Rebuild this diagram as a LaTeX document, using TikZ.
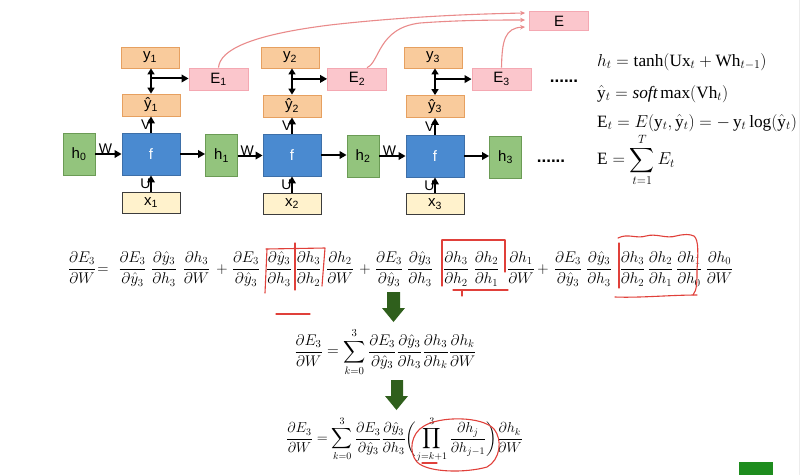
\documentclass[tikz,border=0pt]{standalone}
\usepackage{amsmath}
\usepackage{fontspec}
\setmainfont{Liberation Serif}
\newfontfamily\lsans{Liberation Sans}
\usetikzlibrary{arrows.meta,calc}
\definecolor{gfill}{HTML}{93C47D}\definecolor{gline}{HTML}{6B9B55}
\definecolor{bfill}{HTML}{4A8AD0}\definecolor{bline}{HTML}{3D6FA8}
\definecolor{ofill}{HTML}{F9CB9C}\definecolor{oline}{HTML}{E6A060}
\definecolor{pfill}{HTML}{FBC6CC}\definecolor{pline}{HTML}{F4A8B2}
\definecolor{yfill}{HTML}{FFF2CC}\definecolor{yline}{HTML}{3C3C3C}
\definecolor{pcurve}{HTML}{E98B8B}
\definecolor{dgreen}{HTML}{2F5F1C}
\definecolor{sqgreen}{HTML}{1E8C1E}
\definecolor{annot}{HTML}{E0403A}
\newcommand\pdfr[2]{\dfrac{\partial #1}{\partial #2}}
\newcommand\rowfr[1]{\scalebox{0.9}{$\nulldelimiterspace=0pt #1$}}
\begin{document}
\begin{tikzpicture}[x=1pt,y=-1pt,
  box/.style={draw, line width=0.8pt, inner sep=0pt, font=\lsans\fontsize{15}{17}\selectfont},
  gbox/.style={box, fill=gfill, draw=gline, minimum width=32pt, minimum height=42pt},
  fbox/.style={box, fill=bfill, draw=bline, text=white, minimum width=58pt, minimum height=42pt},
  xbox/.style={box, fill=yfill, draw=yline, minimum width=58pt, minimum height=21pt},
  obox/.style={box, fill=ofill, draw=oline, minimum width=58pt, minimum height=22pt},
  pbox/.style={box, fill=pfill, draw=pline, minimum width=59pt, minimum height=22pt},
  wl/.style={inner sep=0pt, font=\lsans\fontsize{14}{16}\selectfont},
  dotl/.style={inner sep=0pt, font=\lsans\bfseries\fontsize{17}{18}\selectfont},
  arr/.style={line width=2pt, -{Triangle[length=7pt,width=7.5pt]}},
  darr/.style={line width=2pt, {Triangle[length=6pt,width=7pt]}-{Triangle[length=6pt,width=7pt]}},
  parr/.style={draw=pcurve, line width=1.1pt, -{Stealth[length=5pt,width=4.5pt]}},
  fr/.style={inner sep=0pt, anchor=base, font=\fontsize{17.28}{20}\selectfont},
  req/.style={inner sep=0pt, anchor=west, font=\fontsize{17.28}{20}\selectfont},
  red/.style={draw=annot, line width=1.1pt, line cap=round, line join=round}
]
\useasboundingbox (0,0) rectangle (811,475);
\draw[gray!15, line width=0.8pt] (799,0) -- (799,475);
\fill[sqgreen] (739,462) rectangle (773,475);

% RNN chain
\node[gbox] (h0) at (79,154) {h\textsubscript{0}};
\node[fbox] (f1) at (151,154) {f};
\node[gbox] (h1) at (221.5,155.5) {h\textsubscript{1}};
\node[fbox] (f2) at (292,155) {f};
\node[gbox] (h2) at (363,156) {h\textsubscript{2}};
\node[fbox] (f3) at (435,156) {f};
\node[gbox] (h3) at (505.5,157) {h\textsubscript{3}};
\node[xbox] (x1) at (151,202.5) {x\textsubscript{1}};
\node[xbox] (x2) at (292,203.5) {x\textsubscript{2}};
\node[xbox] (x3) at (435,204) {x\textsubscript{3}};
\node[obox] (yh1) at (151,105) {ŷ\textsubscript{1}};
\node[obox] (yh2) at (292,106) {ŷ\textsubscript{2}};
\node[obox] (yh3) at (435,106.5) {ŷ\textsubscript{3}};
\node[obox,minimum height=21pt] (y1) at (150,57.5) {y\textsubscript{1}};
\node[obox,minimum height=21pt] (y2) at (290,57.5) {y\textsubscript{2}};
\node[obox,minimum height=21pt] (y3) at (433,57.5) {y\textsubscript{3}};
\node[pbox] (E1) at (218.5,79) {E\textsubscript{1}};
\node[pbox] (E2) at (357,79) {E\textsubscript{2}};
\node[pbox] (E3) at (501.5,79) {E\textsubscript{3}};
\node[pbox,minimum height=19pt] (E) at (559,21) {E};
\node[dotl] (d1) at (564,81) {......};
\node[dotl] (d2) at (551,161) {......};

\foreach \i/\hp in {1/0,2/1,3/2}{
  \draw[arr] (h\hp.east) -- node[wl,pos=0.38,above=-0.5pt] (w\i) {W} (h\hp.east -| f\i.west);
  \draw[arr] (f\i.east) -- (f\i.east -| h\i.west);
  \draw[arr] (x\i.north) -- node[wl,left=-0.5pt] (u\i) {U} (x\i.north |- f\i.south);
  \draw[arr] (f\i.north) -- node[wl,left=-0.5pt] (v\i) {V} (f\i.north |- yh\i.south);
  \draw[darr] (yh\i.north) -- (yh\i.north |- y\i.south);
  \coordinate (m\i) at ($(yh\i.north)!0.6!(yh\i.north |- y\i.south)$);
  \draw[arr] ([xshift=1pt]m\i) -- (m\i -| E\i.west);
}

% curves to E
\coordinate (ea) at ($(E.west)+(-4,-8)$);
\coordinate (eb) at ($(E.west)+(-4,-1)$);
\coordinate (ec) at ($(E.west)+(-4,6)$);
\draw[parr] (E1.north) .. controls (220,50) and (250,35) .. (330,25) .. controls (400,17) and (470,14) .. (ea);
\draw[parr] ([xshift=10pt]E2.north) .. controls (380,62) and (378,28) .. (420,23) .. controls (460,20) and (500,20) .. (eb);
\draw[parr] (E3.north) .. controls (502,40) and (505,28) .. (ec);

% right equations
\node[req] (q1) at (597,62) {$h_t = \tanh(\mathrm{Ux}_t + \mathrm{Wh}_{t-1})$};
\node[req] (q2) at (597,94) {$\hat{\mathrm{y}}_t = \mathit{soft}\max(\mathrm{Vh}_t)$};
\node[req] (q3) at (597,123) {$\mathrm{E}_t = E(\mathrm{y}_t,\hat{\mathrm{y}}_t) = -\,\mathrm{y}_t\log(\hat{\mathrm{y}}_t)$};
\node[req] (q4) at (597,160) {$\mathrm{E} = \displaystyle\sum_{t=1}^{T} E_t$};

% long equation
\node[fr] (t1) at (82,273) {\rowfr{\pdfr{E_3}{W}}};
\node[fr] (t2) at (103,273) {\rowfr{=}};
\node[fr] (t3) at (132.5,273) {\rowfr{\pdfr{E_3}{\hat y_3}}};
\node[fr] (t4) at (164,273) {\rowfr{\pdfr{\hat y_3}{h_3}}};
\node[fr] (t5) at (196.5,273) {\rowfr{\pdfr{h_3}{W}}};
\node[fr] (t6) at (222,273) {\rowfr{+}};
\node[fr] (t7) at (246,273) {\rowfr{\pdfr{E_3}{\hat y_3}}};
\node[fr] (t8) at (279,273) {\rowfr{\pdfr{\hat y_3}{h_3}}};
\node[fr] (t9) at (308.5,273) {\rowfr{\pdfr{h_3}{h_2}}};
\node[fr] (t10) at (340,273) {\rowfr{\pdfr{h_2}{W}}};
\node[fr] (t11) at (365,273) {\rowfr{+}};
\node[fr] (t12) at (389,273) {\rowfr{\pdfr{E_3}{\hat y_3}}};
\node[fr] (t13) at (420,273) {\rowfr{\pdfr{\hat y_3}{h_3}}};
\node[fr] (t14) at (456,273) {\rowfr{\pdfr{h_3}{h_2}}};
\node[fr] (t15) at (486.5,273) {\rowfr{\pdfr{h_2}{h_1}}};
\node[fr] (t16) at (521,273) {\rowfr{\pdfr{h_1}{W}}};
\node[fr] (t17) at (543,273) {\rowfr{+}};
\node[fr] (t18) at (568,273) {\rowfr{\pdfr{E_3}{\hat y_3}}};
\node[fr] (t19) at (599,273) {\rowfr{\pdfr{\hat y_3}{h_3}}};
\node[fr] (t20) at (632.5,273) {\rowfr{\pdfr{h_3}{h_2}}};
\node[fr] (t21) at (660.5,273) {\rowfr{\pdfr{h_2}{h_1}}};
\node[fr] (t22) at (689,273) {\rowfr{\pdfr{h_1}{h_0}}};
\node[fr] (t23) at (719.5,273) {\rowfr{\pdfr{h_0}{W}}};

% green block arrows
\fill[dgreen] (387,292) -- (400,292) -- (400,308) -- (405,308) -- (393.5,322) -- (382,308) -- (387,308) -- cycle;
\fill[dgreen] (391,380) -- (403,380) -- (403,396) -- (408,396) -- (396.5,410) -- (385,396) -- (391,396) -- cycle;

% summary equations
\node[inner sep=0pt, font=\fontsize{14.4}{17}\selectfont] (eqb) at (385.5,352) {\scalebox{1.07}{$\displaystyle \pdfr{E_3}{W} = \sum_{k=0}^{3} \pdfr{E_3}{\hat y_3}\pdfr{\hat y_3}{h_3}\pdfr{h_3}{h_k}\pdfr{h_k}{W}$}};
\node[inner sep=0pt, font=\fontsize{14.4}{17}\selectfont] (eqc) at (404.5,440) {$\displaystyle \pdfr{E_3}{W} = \sum_{k=0}^{3} \pdfr{E_3}{\hat y_3}\pdfr{\hat y_3}{h_3}\biggl(\prod_{j=k+1}^{3}\pdfr{h_j}{h_{j-1}}\biggr)\pdfr{h_k}{W}$};

% red annotations
\draw[red] (267,249) -- (265,293);
\draw[red] (266,249) -- (325,248) -- (322,286);
\draw[red] (295,243) -- (295,290);
\draw[red] (442,240) -- (442,286);
\draw[red] (442,240) -- (505,240) -- (505,272);
\draw[red] (453,290) -- (508,290);
\draw[red] (462,290) -- (462,296);
\draw[red] (618,238) .. controls (628,233) and (636,239) .. (646,236) .. controls (656,233) and (666,239) .. (676,236) .. controls (684,234) and (690,234) .. (694,236) .. controls (699,240) and (698,255) .. (697,270) .. controls (697,282) and (697,290) .. (693,295);
\draw[red] (619,243) -- (619,288);
\draw[red] (615,297) .. controls (640,298) and (670,295) .. (697,295);
\draw[red] (276,314) -- (310,314);
\draw[red] (424,426) .. controls (440,416) and (482,416) .. (494,429) .. controls (503,440) and (500,460) .. (487,467) .. controls (466,473) and (428,473) .. (417,462) .. controls (408,452) and (411,433) .. (424,426);
\draw[red] (422,463) -- (437,463);
\end{tikzpicture}
\end{document}
